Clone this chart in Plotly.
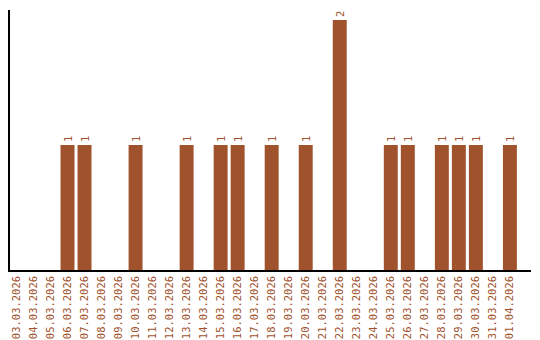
import plotly.graph_objects as go

dates = ["03.03.2026", "04.03.2026", "05.03.2026", "06.03.2026", "07.03.2026",
         "08.03.2026", "09.03.2026", "10.03.2026", "11.03.2026", "12.03.2026",
         "13.03.2026", "14.03.2026", "15.03.2026", "16.03.2026", "17.03.2026",
         "18.03.2026", "19.03.2026", "20.03.2026", "21.03.2026", "22.03.2026",
         "23.03.2026", "24.03.2026", "25.03.2026", "26.03.2026", "27.03.2026",
         "28.03.2026", "29.03.2026", "30.03.2026", "31.03.2026", "01.04.2026"]
counts = [0, 0, 0, 1, 1, 0, 0, 1, 0, 0,
          1, 0, 1, 1, 0, 1, 0, 1, 0, 2,
          0, 0, 1, 1, 0, 1, 1, 1, 0, 1]

color = "#A0522D"
font = dict(family="DejaVu Sans Mono", size=10.5, color=color)

labels = [str(v) if v > 0 else "" for v in counts]

fig = go.Figure(go.Bar(
    x=list(range(len(dates))), y=counts, marker_color=color, marker_line_width=0,
    text=labels, textposition="outside", textangle=-90, textfont=font,
    cliponaxis=False, hoverinfo="skip",
))

fig.update_layout(
    width=540, height=340, margin=dict(l=10, r=9, t=10, b=70),
    plot_bgcolor="white", paper_bgcolor="white", bargap=0.18,
    showlegend=False, uniformtext=dict(minsize=10, mode="show"),
)
fig.update_xaxes(
    tickmode="array", tickvals=list(range(len(dates))), ticktext=dates,
    tickangle=-90, tickfont=font, range=[-0.38, 30.24], automargin=False,
    showline=True, linecolor="black", linewidth=1.5, showgrid=False,
    ticks="", zeroline=False,
)
fig.update_yaxes(
    range=[0, 2.08], showticklabels=False, showgrid=False, zeroline=False,
    showline=True, linecolor="black", linewidth=1.5, ticks="", automargin=False,
)

fig.write_html("out.html")
